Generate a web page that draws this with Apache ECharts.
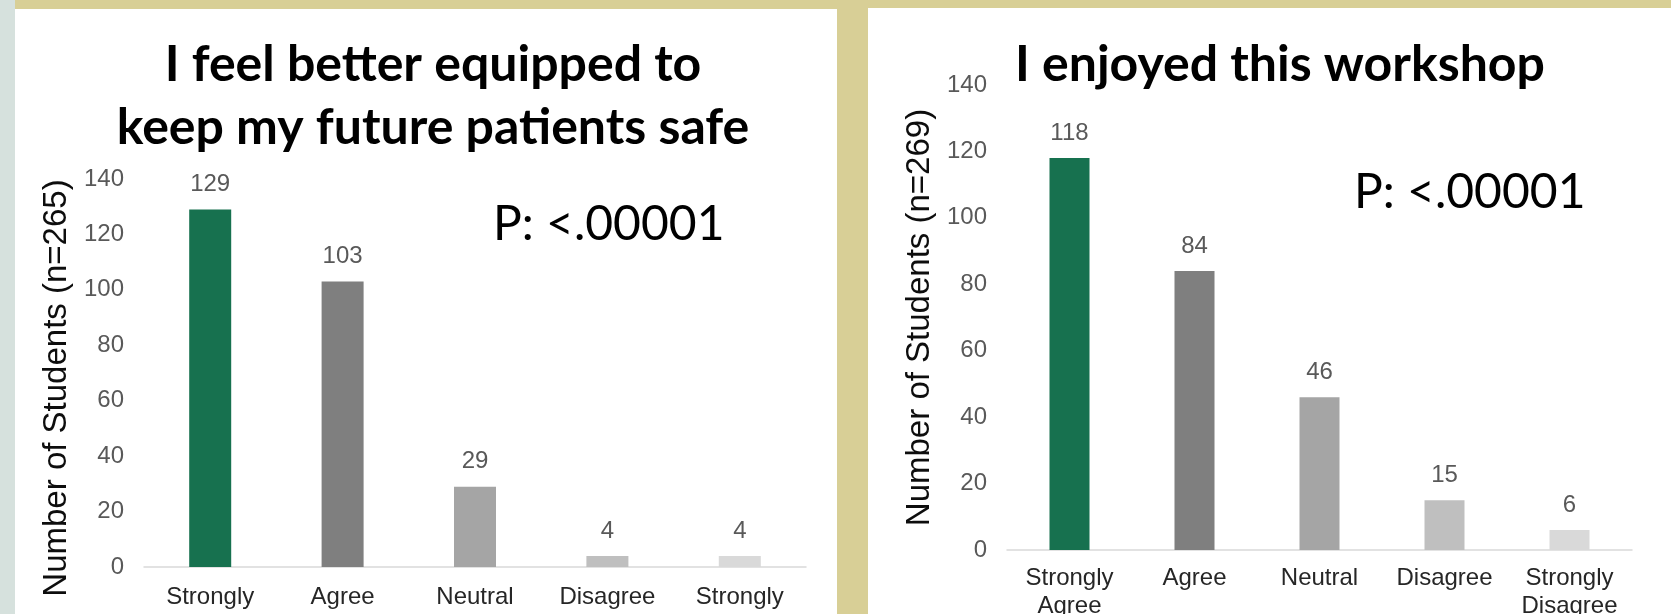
<!DOCTYPE html>
<html>
<head>
<meta charset="utf-8">
<script src="https://cdn.jsdelivr.net/npm/echarts@6/dist/echarts.min.js"></script>
<style>
  html, body { margin: 0; padding: 0; background: #d8cf96; }
  #main { width: 1671px; height: 614px; }
</style>
</head>
<body>
<div id="main"></div>
<script>
var categories = ['Strongly\nAgree', 'Agree', 'Neutral', 'Disagree', 'Strongly\nDisagree'];
var safeCounts = [129, 103, 29, 4, 4];
var enjoyCounts = [118, 84, 46, 15, 6];
var yTicks = [0, 20, 40, 60, 80, 100, 120, 140];
var safeTitle = 'I feel better equipped to\nkeep my future patients safe';
var enjoyTitle = 'I enjoyed this workshop';
var safeName = 'Number of Students (n=265)';
var enjoyName = 'Number of Students (n=269)';
var pText = 'P: <.00001';

// green for the top answer, then lighter greys
var barColors = ['#17714f', '#7f7f7f', '#a5a5a5', '#bfbfbf', '#d9d9d9'];

var chart = echarts.init(document.getElementById('main'));

function xAxisFor(gridIndex, lineH) {
  return {
    type: 'category',
    gridIndex: gridIndex,
    data: categories,
    axisLine: { lineStyle: { color: '#d9d9d9', width: 1.5 } },
    axisTick: { length: 7, lineStyle: { color: '#d9d9d9', width: 1.5 } },
    axisLabel: {
      color: '#262626',
      fontFamily: 'Liberation Sans',
      fontSize: 24,
      lineHeight: lineH,
      margin: 14,
      interval: 0
    }
  };
}

function yAxisFor(gridIndex, name, shift) {
  return {
    type: 'value',
    gridIndex: gridIndex,
    min: yTicks[0],
    max: yTicks[yTicks.length - 1],
    interval: yTicks[1] - yTicks[0],
    name: name,
    nameLocation: 'middle',
    nameGap: 71,
    nameTextStyle: {
      color: '#0d0d0d',
      fontFamily: 'Liberation Sans',
      fontSize: 33,
      padding: [0, shift, 0, 0]
    },
    axisLine: { show: false },
    axisTick: { show: false },
    splitLine: { show: false },
    axisLabel: {
      color: '#595959',
      fontFamily: 'Liberation Sans',
      fontSize: 24,
      margin: 20
    }
  };
}

function barSeries(idx, values, width) {
  return {
    type: 'bar',
    xAxisIndex: idx,
    yAxisIndex: idx,
    barWidth: width,
    data: values,
    itemStyle: {
      color: function (p) { return barColors[p.dataIndex]; }
    },
    label: {
      show: true,
      position: 'top',
      distance: 13,
      color: '#595959',
      fontFamily: 'Liberation Sans',
      fontSize: 24
    }
  };
}

var option = {
  animation: false,
  graphic: [
    { type: 'rect', shape: { x: 0, y: 0, width: 15, height: 614 }, style: { fill: '#d6e1dd' }, z: -10 },
    { type: 'rect', shape: { x: 15, y: 9, width: 822, height: 605 }, style: { fill: '#ffffff' }, z: -10 },
    { type: 'rect', shape: { x: 868, y: 8, width: 803, height: 606 }, style: { fill: '#ffffff' }, z: -10 },
    {
      type: 'text', left: 493, top: 201,
      style: { text: pText, fill: '#000', font: '48px Lato' }
    },
    {
      type: 'text', left: 1354, top: 169,
      style: { text: pText, fill: '#000', font: '48px Lato' }
    }
  ],
  title: [
    {
      text: safeTitle,
      left: 428,
      top: 28,
      textAlign: 'center',
      textStyle: {
        fontFamily: 'Lato',
        fontWeight: 'bold',
        fontSize: 50,
        lineHeight: 63,
        color: '#000'
      }
    },
    {
      text: enjoyTitle,
      left: 1275,
      top: 28,
      textAlign: 'center',
      textStyle: {
        fontFamily: 'Lato',
        fontWeight: 'bold',
        fontSize: 50,
        lineHeight: 63,
        color: '#000'
      }
    }
  ],
  grid: [
    { left: 144, top: 179, width: 662, height: 388, outerBoundsMode: 'none', containLabel: false },
    { left: 1007, top: 85, width: 625, height: 465, outerBoundsMode: 'none', containLabel: false }
  ],
  xAxis: [xAxisFor(0, 32), xAxisFor(1, 28)],
  yAxis: [yAxisFor(0, safeName, 30), yAxisFor(1, enjoyName, 0)],
  series: [
    barSeries(0, safeCounts, 42),
    barSeries(1, enjoyCounts, 40)
  ]
};

chart.setOption(option);
</script>
</body>
</html>
